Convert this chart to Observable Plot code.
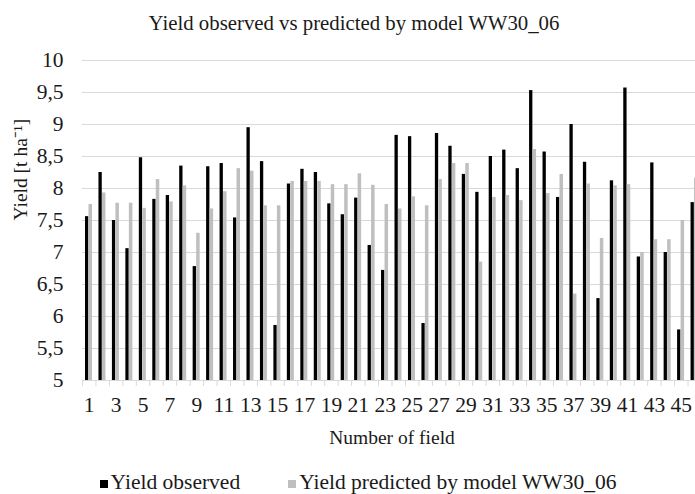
<!DOCTYPE html>
<html>
<head>
<meta charset="utf-8">
<script src="https://cdn.jsdelivr.net/npm/d3@7"></script>
<script src="https://cdn.jsdelivr.net/npm/@observablehq/plot@0.6"></script>
<style>
  body { margin: 0; background: #fff; font-family: 'Liberation Serif', serif; color: #1a1a1a; }
  #wrap { width: 695px; height: 494px; position: relative; overflow: hidden; font-family: 'Liberation Serif', serif; }
  #title { height: 45px; line-height: 45px; font-size: 20.8px; text-align: center; padding-left: 13px; box-sizing: border-box; font-family: 'Liberation Serif', serif; }
  #legend { position: absolute; top: 468px; left: 0; width: 695px; text-align: center; padding-left: 21px; box-sizing: border-box; font-size: 21.5px; line-height: 28px; font-family: 'Liberation Serif', serif; }
  .sw { display: inline-block; width: 8px; height: 8px; margin-right: 3px; vertical-align: 1px; }
  svg { display: block; }
  #chart svg, #chart svg text { font-family: 'Liberation Serif', serif !important; }
</style>
</head>
<body>
<div id="wrap">
  <div id="title">Yield observed vs predicted by model WW30_06</div>
  <div id="chart"></div>
  <div id="legend"><span class="sw" style="background:#000"></span>Yield observed<span style="display:inline-block;width:48px"></span><span class="sw" style="background:#bfbfbf"></span>Yield predicted by model WW30_06</div>
</div>
<script>
const fields = [1,2,3,4,5,6,7,8,9,10,11,12,13,14,15,16,17,18,19,20,21,22,23,24,25,26,27,28,29,30,31,32,33,34,35,36,37,38,39,40,41,42,43,44,45,46];
const observed = [7.56,8.25,7.50,7.06,8.48,7.83,7.89,8.35,6.78,8.34,8.39,7.54,8.95,8.42,5.86,8.07,8.30,8.25,7.76,7.59,7.85,7.11,6.72,8.83,8.81,5.89,8.86,8.66,8.22,7.94,8.50,8.60,8.31,9.53,8.57,7.86,9.00,8.41,6.28,8.12,9.57,6.93,8.40,7.00,5.79,7.78];
const predicted = [7.75,7.93,7.77,7.77,7.69,8.14,7.79,8.04,7.30,7.68,7.95,8.31,8.27,7.73,7.73,8.11,8.11,8.11,8.06,8.06,8.23,8.05,7.75,7.68,7.87,7.73,8.14,8.39,8.39,6.85,7.86,7.89,7.81,8.61,7.92,8.22,6.35,8.07,7.22,8.04,8.06,7.00,7.20,7.20,7.50,8.16];
const yTicks = [5,5.5,6,6.5,7,7.5,8,8.5,9,9.5,10];
const xTicks = [1,3,5,7,9,11,13,15,17,19,21,23,25,27,29,31,33,35,37,39,41,43,45];
const yLabel = "Yield [t ha\u207B\u00B9]";
const xLabel = "Number of field";

const data = fields.map((f, i) => ({field: f, obs: observed[i], pred: predicted[i]}));
const yMin = yTicks[0], yMax = yTicks[yTicks.length - 1];
const fmt = d => String(d).replace(".", ",");
const bw = (695 + 6 - 82) / fields.length;
const ff = "'Liberation Serif', serif";

const chart = Plot.plot({
  width: 695,
  height: 415,
  marginTop: 15,
  marginBottom: 80,
  marginLeft: 82,
  marginRight: -6,
  style: `font-family: ${ff}; font-size: 20px; color: #1a1a1a; background: transparent; overflow: hidden;`,
  x: {type: "band", domain: fields, padding: 0, round: false},
  y: {domain: [yMin, yMax]},
  marks: [
    Plot.gridY(yTicks, {stroke: "#d9d9d9", strokeOpacity: 1, strokeWidth: 1.2}),
    Plot.barY(data, {x: "field", y1: () => yMin, y2: "obs", fill: "#000", insetLeft: 3, insetRight: bw - 6.3}),
    Plot.barY(data, {x: "field", y1: () => yMin, y2: "pred", fill: "#bfbfbf", insetLeft: 6.5, insetRight: bw - 10}),
    Plot.axisY(yTicks, {tickSize: 0, tickPadding: 19, tickFormat: fmt, label: null, fontSize: 21.5, fontFamily: ff}),
    Plot.axisX(fields, {tickSize: 6, dx: -bw / 2, text: null, stroke: "#d9d9d9", strokeOpacity: 1, label: null}),
    Plot.axisX(xTicks, {tickSize: 0, tickPadding: 16, label: null, fontSize: 21.5, fontFamily: ff}),
    Plot.text([xLabel], {frameAnchor: "bottom", dy: 57, lineAnchor: "middle", fontSize: 19.5, fontFamily: ff}),
    Plot.text([yLabel], {frameAnchor: "left", dx: -62, rotate: -90, lineAnchor: "middle", fontSize: 19.5, fontFamily: ff})
  ]
});
document.getElementById("chart").appendChild(chart);
</script>
</body>
</html>
